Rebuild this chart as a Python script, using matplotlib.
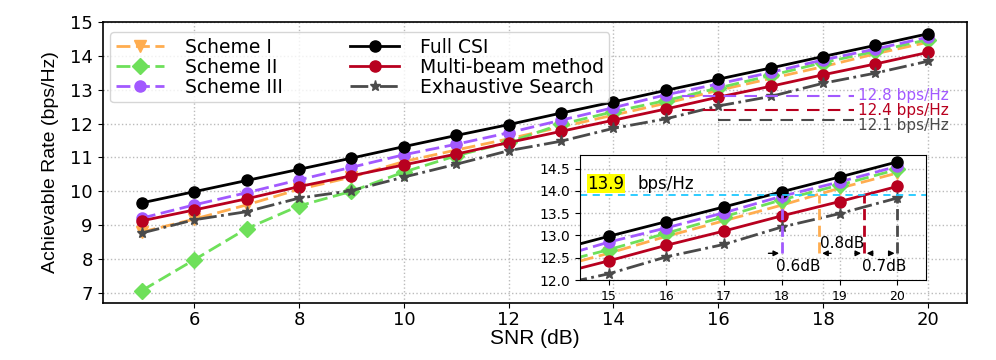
import numpy as np
import matplotlib.pyplot as plt

snr = [5, 6, 7, 8, 9, 10, 11, 12, 13, 14, 15, 16, 17, 18, 19, 20]
scheme1 = [8.80, 9.18, 9.60, 10.06, 10.42, 10.88, 11.22, 11.55, 11.90, 12.25, 12.60, 12.98, 13.33, 13.68, 14.06, 14.40]
scheme2 = [7.07, 7.98, 8.90, 9.57, 10.00, 10.57, 11.05, 11.45, 11.98, 12.35, 12.68, 13.05, 13.42, 13.80, 14.13, 14.48]
scheme3 = [9.21, 9.60, 9.96, 10.34, 10.71, 11.08, 11.39, 11.73, 12.10, 12.47, 12.85, 13.17, 13.51, 13.88, 14.20, 14.55]
full_csi = [9.66, 9.99, 10.32, 10.65, 10.98, 11.32, 11.65, 11.97, 12.31, 12.64, 12.98, 13.31, 13.64, 13.98, 14.31, 14.65]
multi_beam = [9.13, 9.45, 9.78, 10.14, 10.46, 10.78, 11.10, 11.44, 11.77, 12.10, 12.43, 12.78, 13.10, 13.44, 13.76, 14.10]
exhaustive = [8.77, 9.16, 9.40, 9.80, 10.02, 10.42, 10.80, 11.20, 11.48, 11.86, 12.14, 12.52, 12.80, 13.19, 13.49, 13.84]

# reference rates marked on the main plot
ref_rates = [12.8, 12.4, 12.1]
ref_labels = ['12.8 bps/Hz', '12.4 bps/Hz', '12.1 bps/Hz']
ref_start = [15.3, 15.3, 16.0]
ref_text_y = [12.82, 12.39, 11.93]

# inset: target rate and SNR where each curve reaches it
target = 13.9
cross_x = [18.0, 18.65, 19.42, 20.0]
gap_labels = ['0.6dB', '0.8dB', '0.7dB']

c_orange = '#ffad4f'
c_green = '#6ee05a'
c_purple = '#a259ff'
c_red = '#b8001f'
c_grey = '#4a4a4a'

series = [
    (scheme1, 'Scheme I', c_orange, (0, (5, 2)), 'v', 9),
    (scheme2, 'Scheme II', c_green, (0, (5, 2)), 'D', 8),
    (scheme3, 'Scheme III', c_purple, (0, (5, 2)), 'o', 8),
    (full_csi, 'Full CSI', 'black', '-', 'o', 8),
    (multi_beam, 'Multi-beam method', c_red, '-', 'o', 8),
    (exhaustive, 'Exhaustive Search', c_grey, '-.', '*', 8),
]

label_font = ['Liberation Sans Narrow', 'Liberation Sans', 'DejaVu Sans']

fig = plt.figure(figsize=(9.96, 3.6), dpi=100)
ax = fig.add_axes([0.103, 0.158, 0.868, 0.781])

for y, lab, col, ls, mk, ms in series:
    ax.plot(snr, y, color=col, linestyle=ls, marker=mk, markersize=ms, linewidth=2, label=lab)

for r, lab, xs, ty, col in zip(ref_rates, ref_labels, ref_start, ref_text_y, [c_purple, c_red, c_grey]):
    ax.hlines(r, xs, 18.6, colors=col, linestyles=(0, (6, 4)), linewidth=1.5)
    ax.text(18.67, ty, lab, color=col, fontsize=11, va='center', ha='left')

ax.set_xlim(4.25, 20.75)
ax.set_ylim(6.7, 15)
ax.set_xticks([6, 8, 10, 12, 14, 16, 18, 20])
ax.set_yticks([7, 8, 9, 10, 11, 12, 13, 14, 15])
ax.tick_params(labelsize=13)
ax.tick_params(axis='x', pad=2)
ax.grid(True, linestyle=':', color='#bbbbbb', linewidth=1)
ax.set_xlabel('SNR (dB)', fontsize=15, family=label_font, labelpad=0)
ax.set_ylabel('Achievable Rate (bps/Hz)', fontsize=14, family=label_font, labelpad=8)
for s in ax.spines.values():
    s.set_linewidth(1.2)

ax.legend(loc='upper left', ncol=2, fontsize=13.5, handlelength=2.6, handletextpad=1.1,
          columnspacing=3.6, borderpad=0.3, borderaxespad=0.4, labelspacing=0.05,
          bbox_to_anchor=(0.0, 0.99))

# inset zoom
axin = fig.add_axes([0.582, 0.222, 0.348, 0.347])
for y, lab, col, ls, mk, ms in series:
    axin.plot(snr, y, color=col, linestyle=ls, marker=mk, markersize=ms, linewidth=2)
axin.set_xlim(14.5, 20.5)
axin.set_ylim(12.0, 14.8)
axin.set_xticks([15, 16, 17, 18, 19, 20])
axin.set_yticks([12.0, 12.5, 13.0, 13.5, 14.0, 14.5])
axin.tick_params(axis='y', labelsize=10)
axin.tick_params(axis='x', labelsize=9)
axin.grid(True, linestyle=':', color='#bbbbbb', linewidth=1)

axin.axhline(target, color='#1ec8ff', linestyle=(0, (4, 3)), linewidth=1.3)
axin.text(14.63, 14.16, '13.9', fontsize=12, va='center', ha='left',
          bbox=dict(facecolor='yellow', edgecolor='none', pad=0.5))
axin.text(15.5, 14.16, 'bps/Hz', fontsize=12, va='center', ha='left')

low = 12.6
for xc, col in zip(cross_x, [c_purple, c_orange, c_red, c_grey]):
    top = target if xc < 20 else exhaustive[-1]
    axin.vlines(xc, low, top, colors=col, linestyles=(0, (4, 2)), linewidth=2)

arrow = dict(arrowstyle='-|>', color='black', lw=1, mutation_scale=8)
axin.annotate('', xy=(cross_x[0], low), xytext=(17.72, low), arrowprops=arrow)
axin.annotate('', xy=(cross_x[1], low), xytext=(18.9, low), arrowprops=arrow)
axin.annotate('', xy=(cross_x[2], low), xytext=(19.22, low), arrowprops=arrow)
axin.annotate('', xy=(cross_x[2], low), xytext=(19.62, low), arrowprops=arrow)
axin.annotate('', xy=(cross_x[3], low), xytext=(19.83, low), arrowprops=arrow)
axin.text(18.29, 12.3, gap_labels[0], fontsize=11, ha='center', va='center')
axin.text(19.04, 12.83, gap_labels[1], fontsize=11, ha='center', va='center')
axin.text(19.77, 12.3, gap_labels[2], fontsize=11, ha='center', va='center')

fig.savefig('out.png', dpi=100)
